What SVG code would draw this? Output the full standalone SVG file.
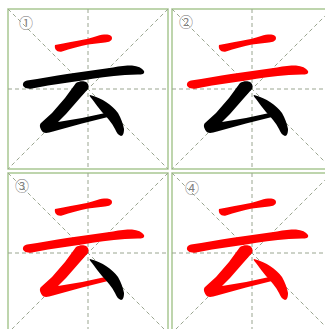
<svg xmlns="http://www.w3.org/2000/svg" xmlns:xlink="http://www.w3.org/1999/xlink" width="325" height="329" viewBox="0 0 325 329">
<style>
.border{fill:none;stroke:#a9c793;stroke-width:1.5}
.guide{fill:none;stroke:#9aa590;stroke-width:1;stroke-dasharray:4 3}
.red{fill:#ff0000}
.blk{fill:#000}
.num{font-family:"Noto Sans CJK SC","DejaVu Sans",sans-serif;font-size:14px;fill:#808080;text-anchor:middle;dominant-baseline:central}
</style>
<defs>
<g id="grid">
<rect class="border" x="0" y="0" width="160" height="160"/>
<line class="guide" x1="0" y1="0" x2="160" y2="160"/>
<line class="guide" x1="160" y1="0" x2="0" y2="160"/>
<line class="guide" x1="80" y1="0" x2="80" y2="160"/>
<line class="guide" x1="0" y1="80" x2="160" y2="80"/>
</g>
<path id="s1" d="M55,45 C66,43 76,41 84,39.5 C92,38 98,35 104,34.5 C109,34 112,35.5 112,38 C112,41 109,42 105,42.5 L88,44.5 C79,46 70,49 62,51.5 C57,52.5 54,49 55,45 Z"/>
<path id="s2" d="M27,80.5 C40,78.5 55,76 67,74 L113,67.5 C120,66 126,65.5 132,65.5 C138,66 142,68 144,71 C145,74 142,74.5 138,74.5 L125,75 C110,76 96,78 82,80.5 L48,85.5 L32,88.5 C27,89.5 22,87 23,84 C23,82 25,81 27,80.5 Z"/>
<path id="s3" d="M76,83 C79,81 84,81 86,82 C89,84 89,87 88,89 L80,98 L66,114 L58,122 C66,121 74,119 82,118 L110,112 C113,111.5 115,112 114.5,114 C114,115.5 112,116 110,116.5 L82,123.5 L53,131.5 C48,133 44,134 42,131 C40,128 39,125 41,123 L52,113 L65,98 Z"/>
<path id="s4" d="M90,95 C97,97 102,99 106,102 C111,105 115,109 118,113 C121,118 123,124 124,129 C124,133 123,136 121,136 C118,135 117,133 115,129 C112,123 107,117 102,112 C98,107 95,103 92,99 C90,97 89,95 90,95 Z"/>
</defs>
<g id="panel1" transform="translate(8,9)">
<use xlink:href="#grid"/>
</g>
<g id="panel2" transform="translate(172,9)">
<use xlink:href="#grid"/>
</g>
<g id="panel3" transform="translate(8,173)">
<use xlink:href="#grid"/>
</g>
<g id="panel4" transform="translate(172,173)">
<use xlink:href="#grid"/>
</g>
<g id="char1">
<use xlink:href="#s1" class="red"/>
<use xlink:href="#s2" class="blk"/>
<use xlink:href="#s3" class="blk"/>
<use xlink:href="#s4" class="blk"/>
<text class="num" x="26" y="22">①</text>
</g>
<g id="char2" transform="translate(164,0)">
<use xlink:href="#s1" class="red"/>
<use xlink:href="#s2" class="red"/>
<use xlink:href="#s3" class="blk"/>
<use xlink:href="#s4" class="blk"/>
<text class="num" x="22" y="21">②</text>
</g>
<g id="char3" transform="translate(0,164)">
<use xlink:href="#s1" class="red"/>
<use xlink:href="#s2" class="red"/>
<use xlink:href="#s3" class="red"/>
<use xlink:href="#s4" class="blk"/>
<text class="num" x="22" y="21">③</text>
</g>
<g id="char4" transform="translate(164,164)">
<use xlink:href="#s1" class="red"/>
<use xlink:href="#s2" class="red"/>
<use xlink:href="#s3" class="red"/>
<use xlink:href="#s4" class="red"/>
<text class="num" x="28" y="23">④</text>
</g>
</svg>
